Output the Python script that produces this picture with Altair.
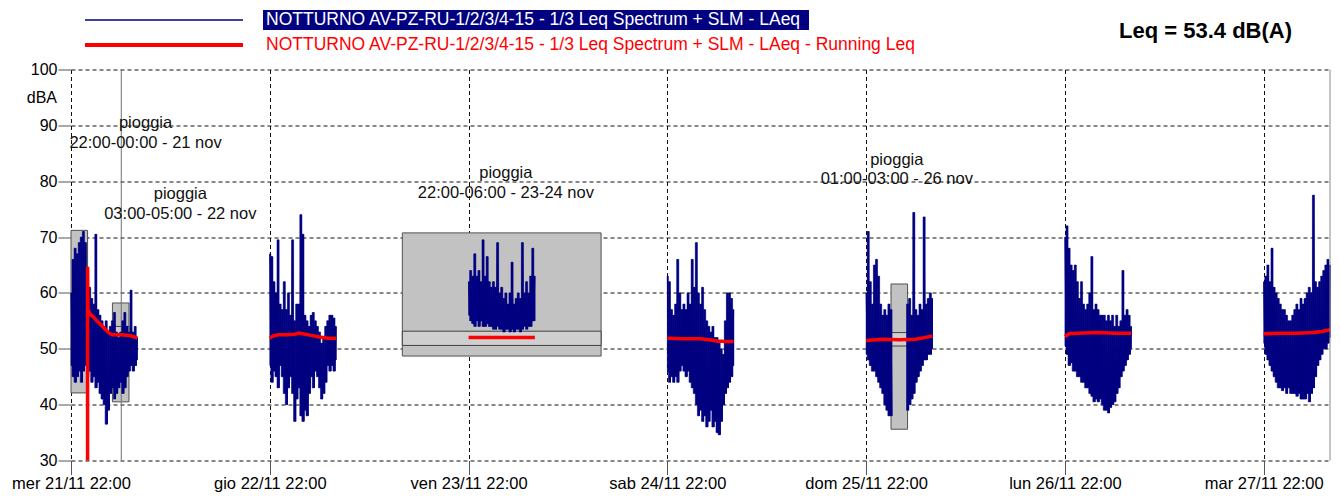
import altair as alt
import pandas as pd

# ---------------- data ----------------
day_labels = ["mer 21/11 22:00", "gio 22/11 22:00", "ven 23/11 22:00", "sab 24/11 22:00",
              "dom 25/11 22:00", "lun 26/11 22:00", "mar 27/11 22:00"]
day_ticks_h = [0, 24, 48, 72, 96, 120, 144]          # hours after 21/11 22:00
x_end_h = 152                                          # 28/11 06:00
y_ticks = [30, 40, 50, 60, 70, 80, 90, 100]

night_starts_h = [0, 24, 48, 72, 96, 120, 144]
night_len_h = 8
sample_step_h = 0.25                                   # one hi/lo pair every 15 min

n1_hi = [60, 66, 68, 67, 69, 70, 71, 69, 64, 61, 59, 58, 70.5, 57, 56, 55, 54, 55, 53, 54,
         55, 56.5, 53, 52, 53, 55, 56.5, 54, 53, 60.5, 53, 54, 52]
n1_lo = [47, 45, 44, 45, 46, 44, 46, 47, 45, 46, 44, 45, 43, 44, 42, 41, 40, 36.5, 39, 42,
         43, 41, 42, 43, 44, 42, 43, 45, 46, 47, 46, 47, 48]
n2_hi = [67, 66.5, 62, 60, 69.5, 58, 57, 62, 57, 60, 56, 69.5, 55, 58, 58, 74, 70.5, 56, 55, 54,
         56, 56.5, 55, 54, 53, 51, 52, 54, 55, 56, 56, 55.5, 54]
n2_lo = [47, 44, 46, 45, 43, 47, 45, 42, 40, 43, 45, 42, 37, 41, 43, 38, 37, 39, 38, 42,
         45, 43, 46, 45, 43, 41, 42, 44, 47, 46, 47, 46, 48]
n3_hi = [62, 64, 63, 67, 63, 64, 62, 69.5, 63, 66.5, 62, 61, 62, 61, 69, 60, 61, 59, 60, 58,
         60, 65.5, 58, 59, 60, 59, 69, 60, 62, 60, 63, 68, 63]
n3_lo = [56, 55, 54.5, 54, 55, 54, 55, 54, 54, 54.5, 54, 54, 53.5, 53.5, 54, 53.5, 53.5, 53, 53.5, 53.5,
         53, 53.5, 53, 53.5, 53.5, 53, 53.5, 54, 53.5, 54, 54, 55, 55]
n4_hi = [63, 62, 57, 56, 58, 66, 60, 57, 58, 57, 60, 58, 66, 61, 69, 60, 58, 61, 57, 55,
         54, 53, 54, 52, 52, 51, 50, 49, 55, 60, 60, 59, 57]
n4_lo = [46, 44, 45, 44, 45, 44, 46, 47, 46, 45, 46, 44, 43, 42, 40, 38, 39, 37, 38, 36,
         37, 39, 36, 37, 35, 34.6, 37, 40, 42, 43, 44, 45, 47]
n5_hi = [60, 71, 62, 58, 65, 66, 63, 58, 56, 57, 56, 58, 57, None, None, None, None, None, None, None,
         58, 59, 56, 74.4, 57, 56, 58, 57, 73.6, 58, 59, 60, 59]
n5_lo = [49, 48, 47, 46, 46, 45, 44, 43, 42, 40, 39, 38, 38, None, None, None, None, None, None, None,
         39, 40, 41, 42, 44, 45, 46, 47, 48, 48, 49, 49, 50]
n6_hi = [70, 72, 68, 65, 64, 65, 62, 59, 62, 58, 57, 58, 60, 66.5, 57, 58, 57, 56, 56, 56,
         55, 56, 55, 56, 54, 56, 54, 55, 64, 56, 57, 56, 54]
n6_lo = [50.5, 49, 47, 47.5, 46, 46, 45, 45, 44, 44, 43, 43, 42, 41.5, 40.5, 41, 40.5, 41, 40, 39,
         39, 38.5, 39.5, 40, 40.5, 42, 43, 45, 46, 47, 48, 49, 50]
n7_hi = [62, 63, 65, 62, 68, 61, 60, 59, 58, 57, 57, 56, 55, 55, 56, 57, 58, 57, 59, 58,
         59, 60, 61, 60, 77.5, 62, 61, 62, 63, 64, 65, 66, 65]
n7_lo = [51, 49, 48, 47, 46, 45, 44, 43, 43, 42.5, 43, 42, 43, 42, 42, 42, 41.5, 42, 41, 41,
         41, 42, 40.5, 42, 43, 45, 47, 48, 49, 50, 50, 51, 52]

# running Leq per night: (hours after night start, dB)
leq1_h = [2.0, 2.0, 2.05, 2.3, 2.6, 3.0, 3.4, 3.8, 4.2, 4.6, 5.0, 6.0, 7.0, 7.5, 8.0]
leq1_v = [30, 64.7, 57.0, 56.2, 55.8, 55.2, 54.6, 54.0, 53.4, 52.8, 52.5, 52.5, 52.4, 52.2, 51.9]
leq2_h = [0, 0.4, 1.0, 2.0, 3.0, 3.5, 4.0, 5.0, 6.0, 7.0, 8.0]
leq2_v = [51.9, 52.3, 52.5, 52.5, 52.6, 52.8, 52.7, 52.4, 52.1, 51.9, 51.9]
leq3_h = [0, 8]
leq3_v = [52.0, 52.0]
leq4_h = [0, 2, 4, 5, 6, 7, 8]
leq4_v = [51.9, 51.8, 51.8, 51.6, 51.4, 51.3, 51.3]
leq5_h = [0, 2, 4, 6, 7, 8]
leq5_v = [51.5, 51.7, 51.6, 51.7, 52.0, 52.3]
leq6_h = [0, 0.5, 1.5, 4, 6, 8]
leq6_v = [52.2, 52.7, 52.8, 52.9, 52.8, 52.8]
leq7_h = [0, 2, 4, 6, 7, 8]
leq7_v = [52.7, 52.8, 52.8, 52.9, 53.1, 53.4]

# rain periods (grey boxes)
box_x1 = [0, 5, 40, 99]
box_x2 = [2, 7, 64, 101]
box_lo = [42.1, 40.5, 48.7, 35.6]
box_hi = [71.2, 58.2, 70.75, 61.6]
inner_x1 = [5, 40, 99]
inner_x2 = [7, 64, 101]
inner_lo = [51.1, 50.6, 50.5]
inner_hi = [54.0, 53.15, 52.9]

cursor_h = [6.07]

ann_title = "pioggia"
ann_x_h = [9.0, 13.2, 52.5, 99.7]
ann_y_db = [90.4, 77.7, 81.4, 83.8]
ann_period = ["22:00-00:00 - 21 nov", "03:00-05:00 - 22 nov", "22:00-06:00 - 23-24 nov", "01:00-03:00 - 26 nov"]

legend_blue = "NOTTURNO AV-PZ-RU-1/2/3/4-15 - 1/3 Leq Spectrum + SLM - LAeq"
legend_red = "NOTTURNO AV-PZ-RU-1/2/3/4-15 - 1/3 Leq Spectrum + SLM - LAeq - Running Leq"
leq_total = "Leq = 53.4 dB(A)"
y_unit = "dBA"

# ---------------- tables ----------------
his = [n1_hi, n2_hi, n3_hi, n4_hi, n5_hi, n6_hi, n7_hi]
los = [n1_lo, n2_lo, n3_lo, n4_lo, n5_lo, n6_lo, n7_lo]
rows = []
bars = []
seg = 0
half = sample_step_h / 2
for start, hi, lo in zip(night_starts_h, his, los):
    seg += 1
    gap = False
    n = len(hi)
    for k in range(n):
        if hi[k] is None:
            if not gap:
                seg += 1
                gap = True
            continue
        gap = False
        t = start + k * sample_step_h
        bars.append({"a": max(start, t - half), "b": min(start + night_len_h, t + half),
                     "lo": lo[k], "hi": hi[k]})
        rows.append({"t": t, "v": hi[k], "seg": seg, "o": len(rows)})
        t2 = t + half if k < n - 1 else t
        rows.append({"t": t2, "v": lo[k], "seg": seg, "o": len(rows)})
blue_df = pd.DataFrame(rows)
bar_df = pd.DataFrame(bars)

leq_hs = [leq1_h, leq2_h, leq3_h, leq4_h, leq5_h, leq6_h, leq7_h]
leq_vs = [leq1_v, leq2_v, leq3_v, leq4_v, leq5_v, leq6_v, leq7_v]
rrows = []
for i, (start, hs, vs) in enumerate(zip(night_starts_h, leq_hs, leq_vs)):
    for h, v in zip(hs, vs):
        rrows.append({"t": start + h, "v": v, "seg": i, "o": len(rrows)})
red_df = pd.DataFrame(rrows)

box_df = pd.DataFrame({"x1": box_x1, "x2": box_x2, "lo": box_lo, "hi": box_hi})
inner_df = pd.DataFrame({"x1": inner_x1, "x2": inner_x2, "lo": inner_lo, "hi": inner_hi})
ann_df = pd.DataFrame({"x": ann_x_h, "y": ann_y_db, "title": [ann_title] * len(ann_x_h), "period": ann_period})

# ---------------- scales / axes ----------------
FONT = "Liberation Sans"
NAVY = "#000080"
xs = alt.Scale(domain=[0, x_end_h], nice=False, zero=False)
ys = alt.Scale(domain=[30, 100], nice=False, zero=False)
label_js = "[" + ",".join("'" + s + "'" for s in day_labels) + "][round(datum.value/24)]"
xax = alt.Axis(values=day_ticks_h, labelExpr=label_js, title=None, grid=True, domain=False,
               tickSize=14, labelPadding=1, labelFontSize=16.5, labelFont=FONT, labelColor="#000",
               tickColor="#555", gridColor="#111", gridDash=[4, 3], labelFlush=False)
yax = alt.Axis(values=y_ticks, title=None, grid=True, domain=False, tickSize=13, labelPadding=1,
               labelFontSize=16, labelFont=FONT, labelColor="#000", tickColor="#555",
               gridColor="#111", gridDash=[4, 3])


def X(f):
    return alt.X(f, scale=xs, axis=xax)


def Y(f):
    return alt.Y(f, scale=ys, axis=yax)


boxes = alt.Chart(box_df).mark_rect(fill="#c2c2c2", stroke="#505050", strokeWidth=1).encode(
    x=X("x1:Q"), x2="x2:Q", y=Y("lo:Q"), y2="hi:Q")
inner = alt.Chart(inner_df).mark_rect(fill="#cfcfcf", stroke="#404040", strokeWidth=1).encode(
    x=X("x1:Q"), x2="x2:Q", y=Y("lo:Q"), y2="hi:Q")
cursor = alt.Chart(pd.DataFrame({"t": cursor_h})).mark_rule(color="#707070", strokeWidth=1).encode(x=X("t:Q"))
right_edge = alt.Chart(pd.DataFrame({"t": [x_end_h]})).mark_rule(color="#8a8a8a", strokeWidth=1).encode(x=X("t:Q"))

blue_bars = alt.Chart(bar_df).mark_rect(color=NAVY, stroke=NAVY, strokeWidth=0.6).encode(
    x=X("a:Q"), x2="b:Q", y=Y("lo:Q"), y2="hi:Q")
blue = alt.Chart(blue_df).mark_line(color=NAVY, strokeWidth=1, interpolate="linear").encode(
    x=X("t:Q"), y=Y("v:Q"), detail="seg:N", order="o:Q")
red = alt.Chart(red_df).mark_line(color="#ff0000", strokeWidth=3.5).encode(
    x=X("t:Q"), y=Y("v:Q"), detail="seg:N", order="o:Q")

ann1 = alt.Chart(ann_df).mark_text(font=FONT, fontSize=16.5, color="#111", align="center", baseline="middle").encode(
    x=X("x:Q"), y=Y("y:Q"), text="title:N")
ann2 = alt.Chart(ann_df).mark_text(font=FONT, fontSize=16.5, color="#111", align="center", baseline="middle", dy=19.5).encode(
    x=X("x:Q"), y=Y("y:Q"), text="period:N")

unit = alt.Chart(pd.DataFrame({"s": [y_unit]})).mark_text(font=FONT, fontSize=16, align="right", baseline="middle", color="#000").encode(
    x=alt.value(-14), y=alt.value(28.5), text="s:N")

leg_line_b = alt.Chart(pd.DataFrame({"a": [0]})).mark_rule(color=NAVY, strokeWidth=1.5).encode(
    x=alt.value(14), x2=alt.value(172), y=alt.value(-49.5))
leg_line_r = alt.Chart(pd.DataFrame({"a": [0]})).mark_rule(color="#ff0000", strokeWidth=4).encode(
    x=alt.value(14), x2=alt.value(172), y=alt.value(-24.5))
leg_bg = alt.Chart(pd.DataFrame({"a": [0]})).mark_rect(color=NAVY).encode(
    x=alt.value(192), x2=alt.value(738), y=alt.value(-59.5), y2=alt.value(-39.5))
leg_t1 = alt.Chart(pd.DataFrame({"s": [legend_blue]})).mark_text(font=FONT, fontSize=17.5, color="#ffffff", align="left", baseline="middle").encode(
    x=alt.value(195), y=alt.value(-49.5), text="s:N")
leg_t2 = alt.Chart(pd.DataFrame({"s": [legend_red]})).mark_text(font=FONT, fontSize=17.5, color="#ff0000", align="left", baseline="middle").encode(
    x=alt.value(195), y=alt.value(-24.5), text="s:N")
leq_t = alt.Chart(pd.DataFrame({"s": [leq_total]})).mark_text(font=FONT, fontSize=22, fontWeight="bold", color="#000", align="right", baseline="middle").encode(
    x=alt.value(1221), y=alt.value(-38.5), text="s:N")

chart = alt.layer(
    boxes, inner, cursor, blue_bars, blue, red, right_edge, ann1, ann2, unit,
    leg_line_b, leg_line_r, leg_bg, leg_t1, leg_t2, leq_t
).properties(
    width=1259, height=391,
    padding={"left": 63, "top": 61.5, "right": 2, "bottom": 35},
    autosize=alt.AutoSizeParams(type="none"),
    background="white",
).configure_view(stroke=None)

chart.save("out.html", embed_options={"renderer": "svg", "actions": False})
